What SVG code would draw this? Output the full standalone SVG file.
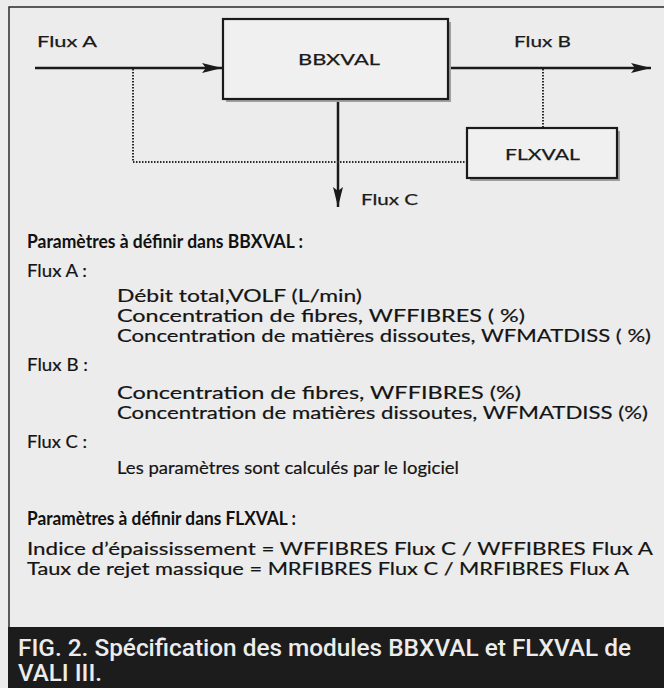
<svg xmlns="http://www.w3.org/2000/svg" width="664" height="688" viewBox="0 0 664 688">
  <defs>
    <style>
      .lbl { font-family: Lato, "Open Sans", "DejaVu Sans", sans-serif; font-size: 16px; fill: #1a1a1a; stroke: #1a1a1a; stroke-width: 0.25; }
      .body { font-family: Lato, "Open Sans", "DejaVu Sans", sans-serif; font-size: 18px; fill: #141414; stroke: #141414; stroke-width: 0.2; }
      .head { font-family: Lato, "Open Sans", "DejaVu Sans", sans-serif; font-size: 18px; fill: #111; font-weight: bold; }
      .cap { font-family: Roboto, "DejaVu Sans", sans-serif; font-size: 23px; fill: #ececec; font-weight: 500; }
      .box { fill: #f0f0f0; stroke: #1a1a1a; stroke-width: 2.2; }
      .shadow { fill: #a0a0a0; }
      .solid { stroke: #1a1a1a; stroke-width: 2.5; fill: none; }
      .dot { stroke: #2a2a2a; stroke-width: 2; fill: none; stroke-dasharray: 1.5 1.5; }
    </style>
    <marker id="arr" viewBox="0 0 20 10" refX="20" refY="5" markerWidth="20" markerHeight="10" markerUnits="userSpaceOnUse" orient="auto">
      <path d="M0,0 L20,5 L0,10 L4,5 Z" fill="#1a1a1a"/>
    </marker>
  </defs>

  <rect x="0" y="0" width="664" height="688" fill="#ececec"/>
  <path d="M9,628 V7 H664" fill="none" stroke="#2a2a2a" stroke-width="1.5"/>

  <g id="connectors">
    <line class="solid" x1="35" y1="68" x2="222" y2="68" marker-end="url(#arr)"/>
    <line class="solid" x1="448" y1="68" x2="651" y2="68" marker-end="url(#arr)"/>
    <line class="solid" x1="338" y1="100" x2="338" y2="207" marker-end="url(#arr)"/>
    <polyline class="dot" points="133,69 133,162 467,162"/>
    <line class="dot" x1="543" y1="69" x2="543" y2="128"/>
  </g>

  <g id="BBXVAL">
    <rect class="shadow" x="226" y="22" width="225" height="80"/>
    <rect class="box" x="223" y="19" width="225" height="80"/>
    <text class="lbl" x="298" y="65" textLength="82" lengthAdjust="spacingAndGlyphs">BBXVAL</text>
  </g>

  <g id="FLXVAL">
    <rect class="shadow" x="470" y="131" width="150" height="50"/>
    <rect class="box" x="467" y="128" width="150" height="50"/>
    <text class="lbl" x="505" y="160" textLength="75" lengthAdjust="spacingAndGlyphs">FLXVAL</text>
  </g>

  <g id="labels">
    <text class="lbl" x="37" y="47" textLength="60" lengthAdjust="spacingAndGlyphs">Flux A</text>
    <text class="lbl" x="514" y="47" textLength="57" lengthAdjust="spacingAndGlyphs">Flux B</text>
    <text class="lbl" x="361" y="205" textLength="57" lengthAdjust="spacingAndGlyphs">Flux C</text>
  </g>

  <g id="params">
    <text class="head" x="27" y="248" textLength="276" lengthAdjust="spacingAndGlyphs">Paramètres à définir dans BBXVAL :</text>
    <text class="body" x="27" y="277" textLength="60" lengthAdjust="spacingAndGlyphs">Flux A :</text>
    <text class="body" x="117" y="302" textLength="245" lengthAdjust="spacingAndGlyphs">Débit total,VOLF (L/min)</text>
    <text class="body" x="117" y="322" textLength="408" lengthAdjust="spacingAndGlyphs">Concentration de fibres, WFFIBRES ( %)</text>
    <text class="body" x="117" y="342" textLength="534" lengthAdjust="spacingAndGlyphs">Concentration de matières dissoutes, WFMATDISS ( %)</text>
    <text class="body" x="27" y="371" textLength="61" lengthAdjust="spacingAndGlyphs">Flux B :</text>
    <text class="body" x="117" y="399" textLength="404" lengthAdjust="spacingAndGlyphs">Concentration de fibres, WFFIBRES (%)</text>
    <text class="body" x="117" y="419" textLength="531" lengthAdjust="spacingAndGlyphs">Concentration de matières dissoutes, WFMATDISS (%)</text>
    <text class="body" x="27" y="448" textLength="60" lengthAdjust="spacingAndGlyphs">Flux C :</text>
    <text class="body" x="117" y="474" textLength="342" lengthAdjust="spacingAndGlyphs">Les paramètres sont calculés par le logiciel</text>
    <text class="head" x="27" y="525" textLength="269" lengthAdjust="spacingAndGlyphs">Paramètres à définir dans FLXVAL :</text>
    <text class="body" x="27" y="555" textLength="626" lengthAdjust="spacingAndGlyphs">Indice d’épaississement = WFFIBRES Flux C / WFFIBRES Flux A</text>
    <text class="body" x="27" y="575" textLength="602" lengthAdjust="spacingAndGlyphs">Taux de rejet massique = MRFIBRES Flux C / MRFIBRES Flux A</text>
  </g>

  <g id="caption">
    <rect x="8" y="627" width="656" height="61" fill="#1c1c1c"/>
    <text class="cap" x="18" y="656" textLength="613" lengthAdjust="spacingAndGlyphs">FIG. 2. Spécification des modules BBXVAL et FLXVAL de</text>
    <text class="cap" x="18" y="681" textLength="84" lengthAdjust="spacingAndGlyphs">VALI III.</text>
  </g>
</svg>
